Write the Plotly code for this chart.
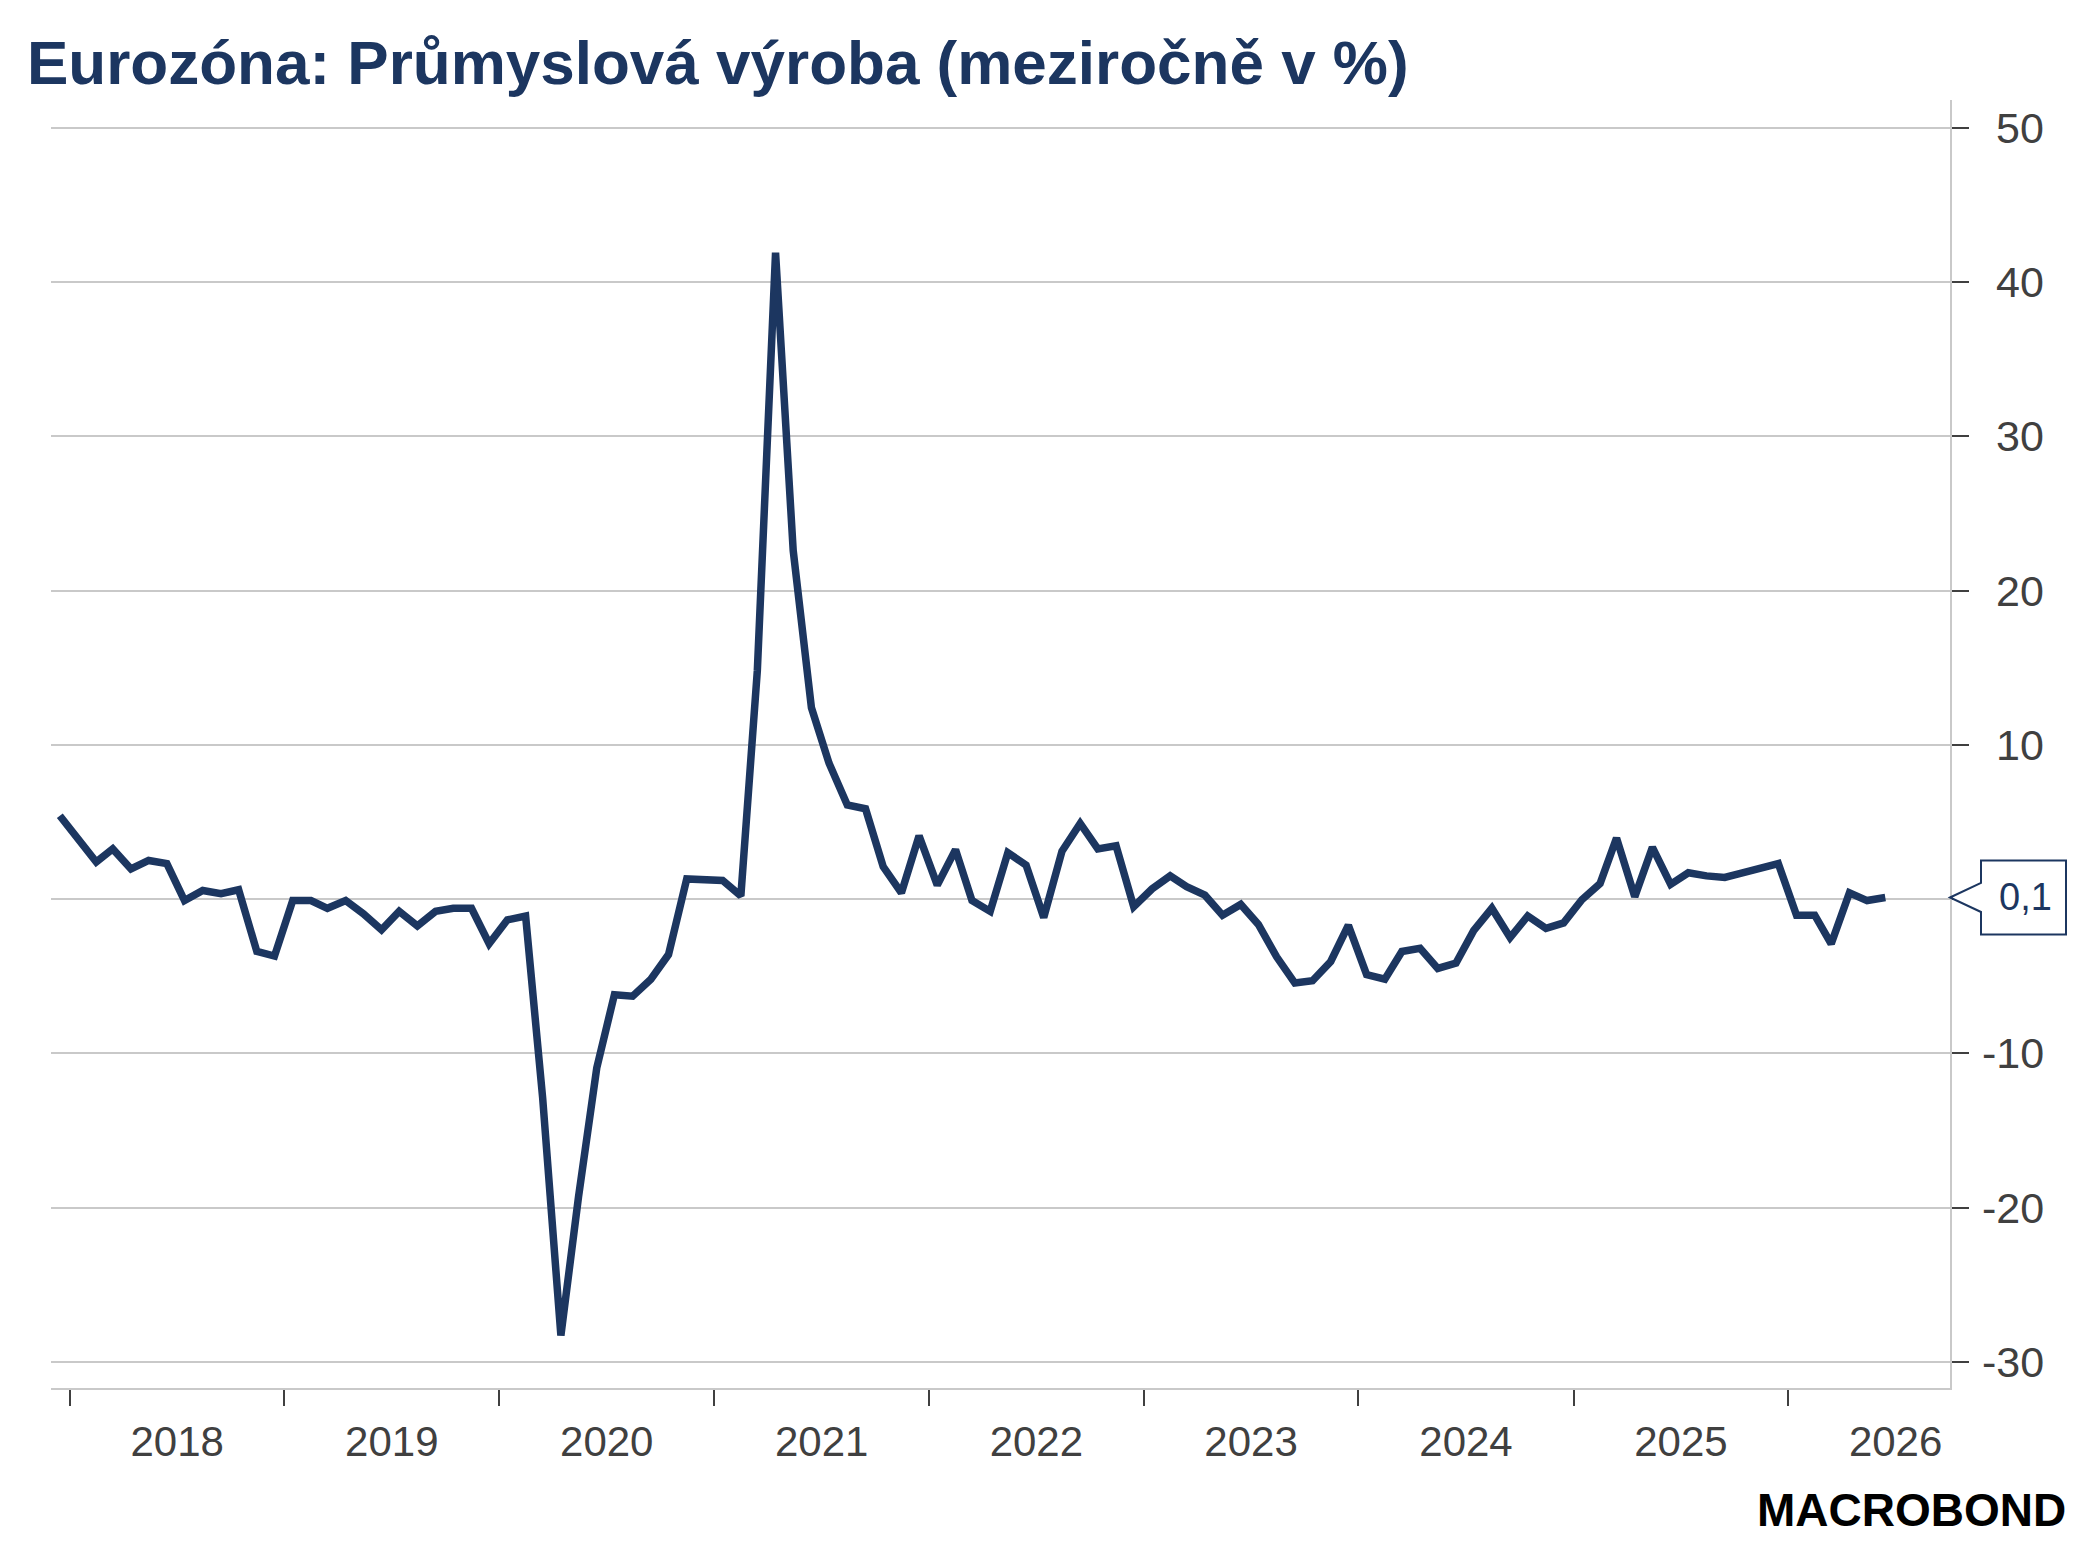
import pandas as pd
import plotly.graph_objects as go

# Eurozone industrial production, y/y %, monthly Dec 2017 .. Jun 2026
start_month = "2017-12-01"
yoy = [
    5.4,                                                   # 2017-12
    3.9, 2.4, 3.25, 1.95, 2.5, 2.3, -0.1, 0.55, 0.35, 0.6, -3.4, -3.7,      # 2018
    -0.1, -0.1, -0.6, -0.1, -0.95, -2.0, -0.8, -1.75, -0.8, -0.6, -0.6, -2.9,  # 2019
    -1.35, -1.1, -12.9, -28.3, -19.3, -10.95, -6.2, -6.3, -5.2, -3.6, 1.3, 1.2,  # 2020
    1.2, 0.2, 14.8, 41.9, 22.6, 12.4, 8.8, 6.1, 5.85, 2.1, 0.4, 4.1,       # 2021
    0.9, 3.2, -0.1, -0.8, 3.0, 2.2, -1.2, 3.1, 4.9, 3.25, 3.45, -0.5,      # 2022
    0.65, 1.5, 0.8, 0.25, -1.05, -0.35, -1.65, -3.75, -5.45, -5.3, -4.05, -1.7,  # 2023
    -4.9, -5.2, -3.4, -3.2, -4.5, -4.15, -2.05, -0.6, -2.5, -1.1, -1.9, -1.55,  # 2024
    -0.05, 1.0, 3.95, 0.15, 3.35, 0.95, 1.7, 1.5, 1.4, 1.7, 2.0, 2.3,      # 2025
    -1.05, -1.05, -2.9, 0.4, -0.1, 0.1,                                     # 2026
]
y_ticks = [-30, -20, -10, 0, 10, 20, 30, 40, 50]
title_text = "Eurozóna: Průmyslová výroba (meziročně v %)"
last_label = "0,1"

# points sit in the middle of each month
months = pd.date_range(start_month, periods=len(yoy), freq="MS") + pd.Timedelta(days=14)

NAVY = "#1c3660"
GREY_TXT = "#404040"
GRID = "#c9c9c9"

fig = go.Figure()
fig.add_trace(go.Scatter(x=months, y=yoy, mode="lines",
                         line=dict(color=NAVY, width=7.5), hoverinfo="x+y",
                         showlegend=False))

fig.update_layout(
    width=2093, height=1568,
    margin=dict(l=51, r=143, t=100, b=180),
    paper_bgcolor="white", plot_bgcolor="white",
    font=dict(family="Liberation Sans, Arial", color=GREY_TXT),
    title=dict(text=title_text, x=27 / 2093, xanchor="left", xref="container",
               y=1 - 62 / 1568, yanchor="middle", yref="container",
               font=dict(size=62, color=NAVY, family="Liberation Sans, Arial", weight="bold")),
    xaxis=dict(range=["2017-11-30", "2026-10-03"], showgrid=False,
               dtick="M12", tick0="2018-01-01", tickformat="%Y",
               ticklabelmode="period", ticks="outside", ticklen=16, tickwidth=2,
               tickcolor=GREY_TXT, showline=True, linecolor=GRID, linewidth=2,
               tickfont=dict(size=42, color=GREY_TXT), zeroline=False),
    yaxis=dict(range=[-31.7, 51.8], side="right", tickvals=y_ticks,
               showticklabels=False,
               showgrid=True, gridcolor=GRID, gridwidth=1.5,
               ticks="outside", ticklen=17, tickwidth=2, tickcolor=GREY_TXT,
               showline=True, linecolor=GRID, linewidth=2, zeroline=False),
)

# right-aligned y labels (plain hyphen); the 0 label is covered by the value box
for v in y_ticks:
    if v == 0:
        continue
    fig.add_annotation(x=1, xref="paper", y=v, yref="y", text=str(v), showarrow=False,
                       xanchor="right", xshift=96, yanchor="middle",
                       font=dict(size=43, color=GREY_TXT))

# callout box for the latest value
fig.add_shape(type="path", xref="paper", yref="y", xsizemode="pixel", ysizemode="pixel",
              xanchor=1, yanchor=yoy[-1],
              path="M 0,0 L 31,14.5 L 31,37 L 116,37 L 116,-37 L 31,-37 L 31,-14.5 Z",
              line=dict(color=NAVY, width=2), fillcolor="white", layer="above")
fig.add_annotation(x=1, xref="paper", y=yoy[-1], yref="y", text=last_label,
                   showarrow=False, xanchor="center", xshift=75, yanchor="middle",
                   font=dict(size=38, color=NAVY))

fig.add_annotation(x=1, xref="paper", y=0, yref="paper", text="<b>MACROBOND</b>",
                   showarrow=False, xanchor="right", xshift=118, yanchor="middle",
                   yshift=-122, font=dict(size=46, color="black", family="Liberation Sans, Arial"))

fig.write_html("out.html", config={"displayModeBar": False},
               post_script="document.body.style.margin='0';")
